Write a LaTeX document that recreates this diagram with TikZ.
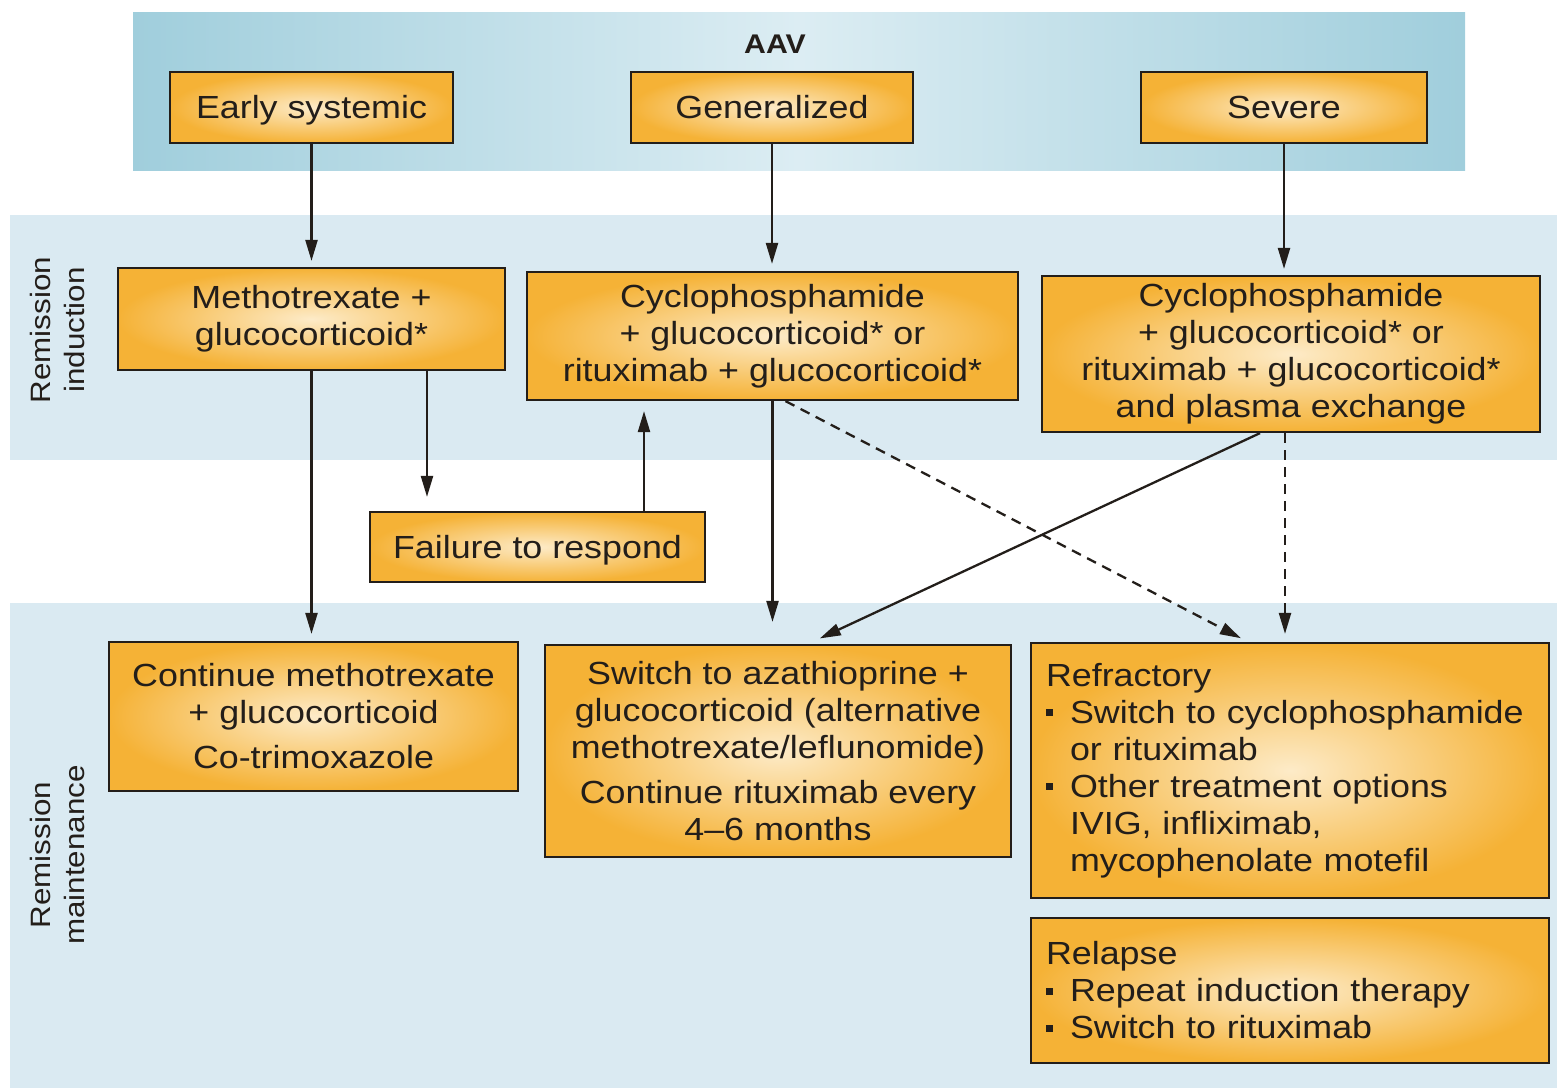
\documentclass[tikz,border=0pt]{standalone}
\usepackage{fontspec}
\setmainfont{Liberation Sans}[FakeStretch=1.12]
\usetikzlibrary{arrows.meta,calc}
\definecolor{boxor}{HTML}{F5B236}
\definecolor{boxin}{HTML}{FDEBC8}
\definecolor{bandcol}{HTML}{DAEAF2}
\definecolor{topdark}{HTML}{A0CEDC}
\definecolor{toplight}{HTML}{DCEDF3}
\definecolor{ink}{HTML}{231E1A}
\newcommand\bulsq{\makebox[24pt][l]{\rule[7pt]{7pt}{7pt}}}
\newcommand\bulgap{\hspace*{24pt}}
\begin{document}
\begin{tikzpicture}[x=1pt,y=-1pt,
  box/.style={draw=ink, line width=2.2pt, inner color=boxin, outer color=boxor,
    align=center, inner sep=0pt, text=ink, font=\fontsize{32}{37}\selectfont},
  onebox/.style={box, text height=26pt, text depth=4pt},
  lbox/.style={box, align=left, text width=488pt},
  side/.style={rotate=90, align=center, text=ink, font=\fontsize{28}{34}\selectfont},
  arr/.style={draw=ink, line width=2.3pt, -{Triangle[length=21pt,width=12pt]}},
  darr/.style={arr, dash pattern=on 10pt off 7pt}]
\useasboundingbox (0,0) rectangle (1557,1088);
% bands
\fill[bandcol] (10,215) rectangle (1557,460);
\fill[bandcol] (10,603) rectangle (1557,1088);
\shade[left color=topdark, right color=topdark, middle color=toplight] (133,12) rectangle (1465,170);
\node[text=ink, font=\fontsize{27}{30}\selectfont\bfseries] (aav) at (775,44) {AAV};
% side labels
\node[side] (lind) at (57,330) {Remission\\induction};
\node[side] (lmain) at (57,855) {Remission\\maintenance};
% top boxes
\node[onebox, minimum width=283pt, minimum height=71pt] (early) at (311.5,107.5) {Early systemic};
\node[onebox, minimum width=282pt, minimum height=71pt] (gen) at (772,107.5) {Generalized};
\node[onebox, minimum width=286pt, minimum height=71pt] (sev) at (1284,107.5) {Severe};
% induction
\node[box, minimum width=387pt, minimum height=102pt] (mtx) at (311.5,319) {Methotrexate +\\glucocorticoid*};
\node[box, minimum width=491pt, minimum height=128pt] (cycg) at (772.5,336) {Cyclophosphamide\\+ glucocorticoid* or\\rituximab + glucocorticoid*};
\node[box, minimum width=498pt, minimum height=156pt] (cycs) at (1291,354) {Cyclophosphamide\\+ glucocorticoid* or\\rituximab + glucocorticoid*\\and plasma exchange};
\node[onebox, minimum width=335pt, minimum height=70pt] (fail) at (537.5,547) {Failure to respond};
% maintenance
\node[box, minimum width=409pt, minimum height=149pt] (cont) at (313.5,716.5) {Continue methotrexate\\+ glucocorticoid\\[8pt]Co-trimoxazole};
\node[box, minimum width=466pt, minimum height=212pt] (aza) at (778,751) {Switch to azathioprine +\\glucocorticoid (alternative\\methotrexate/leflunomide)\\[8pt]Continue rituximab every\\4–6 months};
\node[lbox, minimum width=518pt, minimum height=255pt] (refr) at (1290,770.5) {Refractory\\\bulsq Switch to cyclophosphamide\\\bulgap or rituximab\\\bulsq Other treatment options\\\bulgap IVIG, infliximab,\\\bulgap mycophenolate motefil};
\node[lbox, minimum width=518pt, minimum height=145pt] (rel) at (1290,990.5) {Relapse\\\bulsq Repeat induction therapy\\\bulsq Switch to rituximab};
% connectors
\draw[arr, shorten >=6pt] (early.south) -- (early.south |- mtx.north);
\draw[arr, shorten >=7pt] (gen.south) -- (gen.south |- cycg.north);
\draw[arr, shorten >=6pt] (sev.south) -- (sev.south |- cycs.north);
\draw[arr, shorten >=7pt] (mtx.south) -- (mtx.south |- cont.north);
\coordinate (m2) at ($(mtx.south)+(115.5,0)$);
\draw[arr, shorten >=14pt] (m2) -- (m2 |- fail.north);
\coordinate (f2) at ($(fail.north)+(106.5,0)$);
\draw[arr, shorten >=10pt] (f2) -- (f2 |- cycg.south);
\draw[arr, shorten >=22pt] (cycg.south) -- (cycg.south |- aza.north);
\coordinate (c2) at ($(cycg.south)+(13,0)$);
\coordinate (r1) at ($(refr.north)+(-42,0)$);
\draw[darr, shorten >=8pt] (c2) -- (r1);
\coordinate (s1) at ($(cycs.south)+(-31,0)$);
\coordinate (a1) at ($(aza.north)+(30,0)$);
\draw[arr, shorten >=13pt] (s1) -- (a1);
\coordinate (s2) at ($(cycs.south)+(-6,0)$);
\draw[darr, shorten >=8pt] (s2) -- (s2 |- refr.north);
\end{tikzpicture}
\end{document}
